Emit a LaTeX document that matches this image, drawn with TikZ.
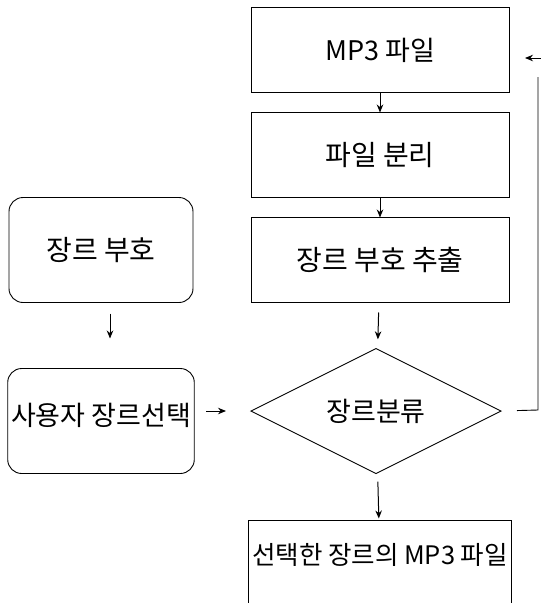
\documentclass[tikz,border=0pt]{standalone}
\usepackage{fontspec}
\newfontfamily\kr{Noto Sans CJK KR}
\usetikzlibrary{shapes.geometric,positioning,arrows.meta}

\begin{document}
\begin{tikzpicture}[x=1pt,y=-1pt,node distance=20pt,
		font=\kr\fontsize{28}{32}\selectfont,
		box/.style={draw, rectangle, line width=0.9pt, outer sep=0pt, minimum width=258pt, minimum height=85pt},
		soft/.style={draw, rectangle, rounded corners=14pt, line width=0.9pt, outer sep=0pt, minimum width=184pt, minimum height=105pt},
		arr/.style={-{Stealth[length=8pt,width=6.5pt]}, line width=1pt}]
				\useasboundingbox (0,0) rectangle (541,603);
				\node[box, font=\kr\fontsize{27}{32}\selectfont] (mp3) at (380,50) {MP3 파일};
				\node[box, below=of mp3] (split) {파일 분리};
				\node[box, below=of split] (extract) {장르 부호 추출};
				\node[draw, diamond, aspect=2, line width=0.9pt, outer sep=0pt, minimum width=250pt, minimum height=125pt, inner sep=0pt, below=46pt of extract, xshift=-4pt, font=\kr\fontsize{27}{32}\selectfont] (sort) {장르분류};
				\node[box, below=47pt of sort, xshift=4pt, font=\kr\fontsize{25.5}{30}\selectfont, text depth=18pt] (result) {선택한 장르의 MP3 파일};
				\node[soft] (code) at (101,250) {장르 부호};
				\node[soft, below=66pt of code, font=\kr\fontsize{27}{32}\selectfont, text depth=14pt] (user) {사용자 장르선택};
				\coordinate (fbBot) at (538,410);
				\coordinate (fbTop) at (538,77);
				\coordinate (fbIn) at (541,58);
				
				\draw[arr] (mp3) -- (split);
				\draw[arr] (split) -- (extract);
				\draw[arr, shorten <=10pt, shorten >=10pt] (extract) -- (sort);
				\draw[arr, shorten <=9pt, shorten >=2pt] (sort) -- (result);
				\draw[arr, shorten <=11pt, shorten >=30pt] ([xshift=9pt]code.south) -- ([xshift=9pt]code.south |- user.north);
				\draw[arr, shorten <=12pt, shorten >=25pt] (user.east |- sort.west) -- (sort.west);
				\draw[line width=0.9pt, shorten <=16pt] (sort.east) -- (fbBot) -- (fbTop);
				\draw[arr, shorten >=16pt] (fbIn) -- (fbIn -| mp3.east);
			\end{tikzpicture}
\end{document}
